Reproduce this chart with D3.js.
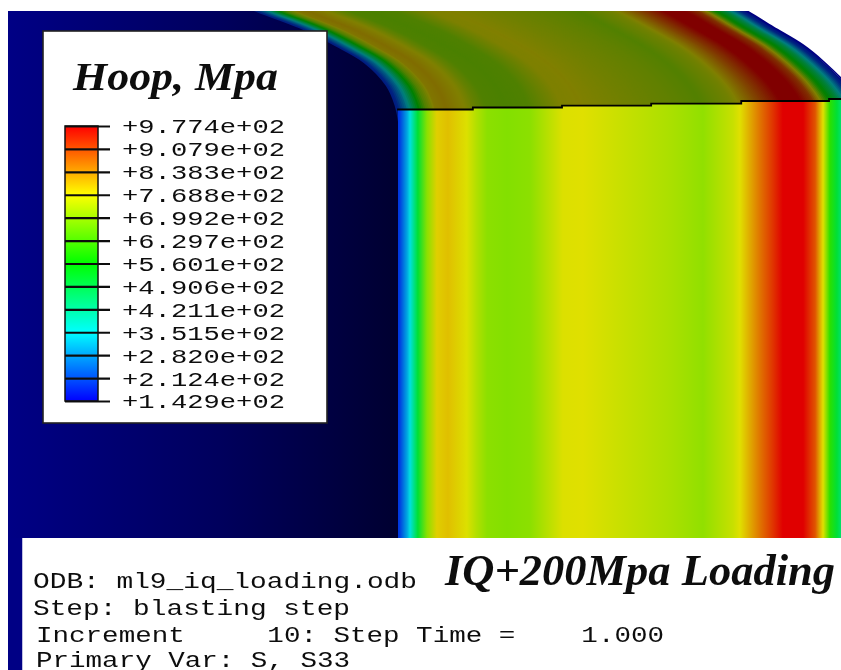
<!DOCTYPE html>
<html><head><meta charset="utf-8">
<script src="https://cdn.jsdelivr.net/npm/d3@7"></script>
<style>html,body{margin:0;padding:0;background:#fff;overflow:hidden}svg{display:block}</style>
</head><body>
<svg id="chart" width="841" height="670"></svg>
<script>
// ---- data ----
const legendValues = [977.4,907.9,838.3,768.8,699.2,629.7,560.1,490.6,421.1,351.5,282.0,212.4,142.9];
const legendLabels = ["+9.774e+02","+9.079e+02","+8.383e+02","+7.688e+02","+6.992e+02","+6.297e+02","+5.601e+02","+4.906e+02","+4.211e+02","+3.515e+02","+2.820e+02","+2.124e+02","+1.429e+02"];
// through-wall position (% of the wall) and hoop stress (MPa)
const wallPos = [0,0.4,2,2.6,4.3,6.3,8.4,10.8,14.9,17,19.3,23.6,28.6,35.7,40,48.7,59.5,66,72.5,74,76.2,78.4,81.2,83.3,87.7,90.3,91.3,92,93.5,95,95.9,97.4,98.7,100];
const hoopStress = [190,200,300,351,512,690,785,800,765,725,690,682,690,765,770,745,717,695,745,770,820,870,930,977,977,900,820,770,600,510,460,330,220,143];
// section line: stepped element boundary (% of wall, height in the view's units)
const sectionPos = [-0.2,16.2,16.2,35.5,35.5,54.8,54.8,74.3,74.3,93.3,93.3,96];
const sectionLevel = [109.5,109.5,107.5,107.5,105.7,105.7,103.7,103.7,101,101,99,99];
// fillet outlines: inner and outer edge of the part above the section
const edgeLevel = [125,105,85,62,45,27,11,0];
const innerEdgeX = [400,396,387,365,336,300,258,232];
const outerEdgeX = [863,860,847,824,803,773,747,725];
const infoLines = ["ODB: ml9_iq_loading.odb","Step: blasting step","Increment     10: Step Time =    1.000","Primary Var: S, S33"];
const legendTitle = "Hoop, Mpa";
const chartTitle = "IQ+200Mpa Loading";
// rainbow colour map of the contour plot
const rampValues = [142.9,351.5,560.1,768.8,977.4];
const rampColors = ["#0000ff","#00ffff","#00ff00","#ffff00","#ff0000"];

// ---- scales ----
const svg = d3.select("#chart");
const defs = svg.append("defs");
const ramp = d3.scaleLinear().domain(rampValues).range(rampColors).interpolate(d3.interpolateRgb);
const x = d3.scaleLinear().domain([0,100]).range([398,860]);
const stress = d3.scaleLinear().domain(wallPos).range(hoopStress);
const shade = (v,k)=>{const c=d3.rgb(ramp(v));return d3.rgb(c.r*k,c.g*k,c.b*k).formatRgb();};
const soft = defs.append("filter").attr("id","soft").attr("x","-5%").attr("y","-5%").attr("width","110%").attr("height","110%");
soft.append("feGaussianBlur").attr("stdDeviation",0.55);

// ---- background ----
const bg = defs.append("linearGradient").attr("id","bg").attr("gradientUnits","userSpaceOnUse")
  .attr("x1",8).attr("x2",400).attr("y1",0).attr("y2",0);
bg.append("stop").attr("offset",0).attr("stop-color","#000085");
bg.append("stop").attr("offset",0.55).attr("stop-color","#00005c");
bg.append("stop").attr("offset",1).attr("stop-color","#000030");
svg.append("rect").attr("x",8).attr("y",11).attr("width",392).attr("height",527).attr("fill","url(#bg)");
svg.append("rect").attr("x",8).attr("y",538).attr("width",14.5).attr("height",132).attr("fill","#000085");

// ---- fillet (darkened contour above the section) ----
defs.append("clipPath").attr("id","topClip").append("rect").attr("x",0).attr("y",11).attr("width",841).attr("height",659);
const ctrl = u => innerEdgeX.map((ix,i)=>[ix+(outerEdgeX[i]-ix)*u, edgeLevel[i]]);
const curve = d3.line().curve(d3.curveCatmullRom.alpha(0.5));
const strips = d3.range(0,100.01,0.4);
svg.append("g").attr("clip-path","url(#topClip)").attr("fill","none")
  .selectAll("path").data(strips).join("path")
  .attr("d",u=>curve(ctrl(u/100)))
  .attr("stroke",u=>shade(stress(u),0.5))
  .attr("stroke-width",u=>u>=99.6?1.6:3);

// ---- wall contour below the section ----
const sectionPts = sectionPos.map((p,i)=>[x(p),sectionLevel[i]]);
const clipPts = sectionPts.concat([[x(96),538],[x(-0.2),538]]);
defs.append("clipPath").attr("id","wallClip").append("polygon").attr("points",clipPts.map(d=>d.join(",")).join(" "));
const wallGrad = defs.append("linearGradient").attr("id","wall").attr("gradientUnits","userSpaceOnUse")
  .attr("x1",x(0)).attr("x2",x(100)).attr("y1",0).attr("y2",0);
wallGrad.selectAll("stop").data(wallPos).join("stop")
  .attr("offset",d=>d/100).attr("stop-color",(d,i)=>shade(hoopStress[i],0.88));
svg.append("rect").attr("clip-path","url(#wallClip)").attr("x",x(0)).attr("y",90).attr("width",x(100)-x(0)).attr("height",448).attr("fill","url(#wall)");
svg.append("path").attr("d",d3.line()(sectionPts)).attr("fill","none").attr("stroke","#000").attr("stroke-width",1.8);

// ---- white panels ----
svg.append("rect").attr("x",43).attr("y",31).attr("width",284).attr("height",392).attr("fill","#fff").attr("stroke","#222").attr("stroke-width",1.6);
svg.append("rect").attr("x",22.5).attr("y",538).attr("width",819).attr("height",132).attr("fill","#fff");

// ---- legend ----
const y = d3.scaleLinear().domain([142.9,977.4]).range([401,126]);
const legGrad = defs.append("linearGradient").attr("id","leg").attr("x1",0).attr("x2",0).attr("y1",1).attr("y2",0);
legGrad.selectAll("stop").data(rampValues).join("stop")
  .attr("offset",v=>(v-142.9)/(977.4-142.9)).attr("stop-color",v=>ramp(v));
svg.append("rect").attr("x",65).attr("y",y(977.4)).attr("width",33).attr("height",y(142.9)-y(977.4)).attr("fill","url(#leg)").attr("stroke","#111").attr("stroke-width",1.5);
const axis = d3.axisRight(y).tickValues(legendValues).tickSize(45).tickPadding(12)
  .tickFormat(v=>legendLabels[legendValues.indexOf(v)]);
const gLeg = svg.append("g").attr("transform","translate(65,0)").attr("filter","url(#soft)").call(axis);
gLeg.select(".domain").remove();
gLeg.selectAll("line").attr("stroke","#111").attr("stroke-width",2.2);
gLeg.selectAll("text").attr("font-family","'Liberation Mono'").attr("font-size",21).attr("fill","#111")
  .attr("textLength",163).attr("lengthAdjust","spacingAndGlyphs").attr("dy","0.33em");

svg.append("text").attr("x",73).attr("y",90).attr("filter","url(#soft)")
  .attr("font-family","'Liberation Serif'").attr("font-style","italic").attr("font-weight","bold")
  .attr("font-size",41).attr("textLength",205).attr("lengthAdjust","spacingAndGlyphs").attr("fill","#111").text(legendTitle);

// ---- bottom text ----
const infoX = [33,33,36,36], infoY = [588,615,642,667], infoW = [384,317,628,314];
svg.append("g").attr("filter","url(#soft)").selectAll("text").data(infoLines).join("text")
  .attr("x",(d,i)=>infoX[i]).attr("y",(d,i)=>infoY[i])
  .attr("xml:space","preserve").style("white-space","pre")
  .attr("font-family","'Liberation Mono'").attr("font-size",22).attr("fill","#111")
  .attr("textLength",(d,i)=>infoW[i]).attr("lengthAdjust","spacingAndGlyphs").text(d=>d);
svg.append("text").attr("x",445).attr("y",585).attr("filter","url(#soft)")
  .attr("font-family","'Liberation Serif'").attr("font-style","italic").attr("font-weight","bold")
  .attr("font-size",45).attr("textLength",390).attr("lengthAdjust","spacingAndGlyphs").attr("fill","#111").text(chartTitle);
</script>
</body></html>
